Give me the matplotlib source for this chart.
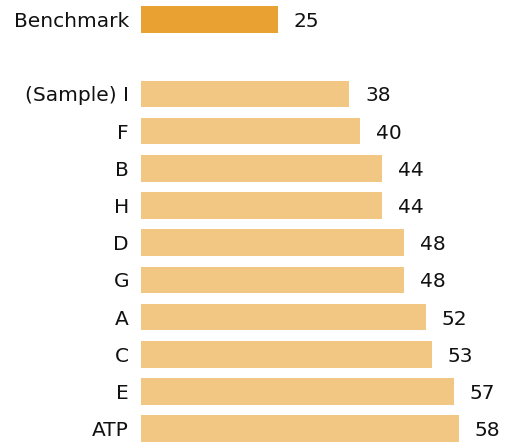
import matplotlib
matplotlib.use("Agg")
import matplotlib.pyplot as plt

# data
labels = ["Benchmark", "(Sample) I", "F", "B", "H", "D", "G", "A", "C", "E", "ATP"]
values = [25, 38, 40, 44, 44, 48, 48, 52, 53, 57, 58]
positions = [0, 2, 3, 4, 5, 6, 7, 8, 9, 10, 11]

bench_color = "#E9A131"
bar_color = "#F2C683"
text_color = "#111111"

plt.rcParams['font.family'] = ['DejaVu Sans']

fig = plt.figure(figsize=(5.05, 4.43), dpi=100)
ax = fig.add_axes([141 / 505, 0, 362 / 505, 1])

colors = [bench_color] + [bar_color] * (len(values) - 1)
ax.barh(positions, values, height=0.72, color=colors, edgecolor="none")

for p, v in zip(positions, values):
    ax.annotate(str(v), xy=(v, p), xytext=(11.3, 0), textcoords="offset points",
                va="center_baseline", ha="left", fontsize=14.5, color=text_color)

# row spacing ~37.2 px, first row centred ~19.5 px from top
ax.set_xlim(0, 66)
ax.set_ylim((443 - 19.5) / 37.2, -19.5 / 37.2)
ax.set_yticks(positions)
ax.set_yticklabels(labels, fontsize=14.5, color=text_color, va="center_baseline")
ax.tick_params(axis="y", length=0, pad=8.6)
ax.set_xticks([])
for s in ax.spines.values():
    s.set_visible(False)

fig.savefig("out.png", dpi=100)
